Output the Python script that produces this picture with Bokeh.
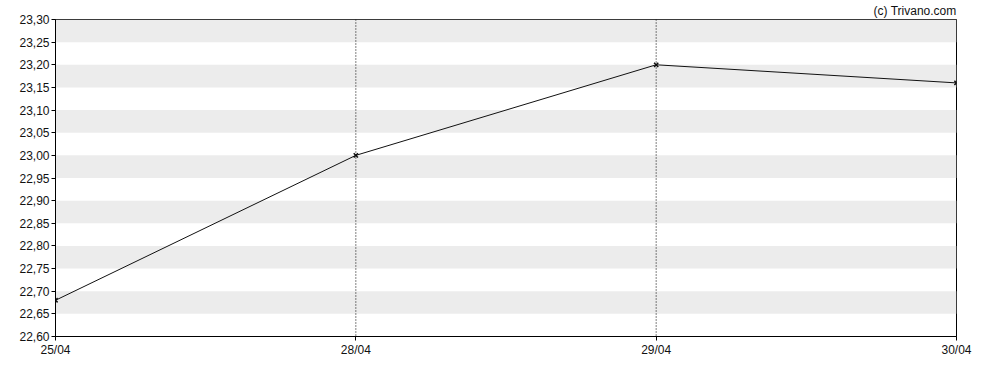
from bokeh.plotting import figure
from bokeh.models import Range1d, FixedTicker, CustomJSTickFormatter, Title, Span
from bokeh.embed import file_html
from bokeh.resources import INLINE

dates = ["25/04", "28/04", "29/04", "30/04"]
prices = [22.68, 23.00, 23.20, 23.16]
y_ticks = [22.60, 22.65, 22.70, 22.75, 22.80, 22.85, 22.90, 22.95, 23.00,
           23.05, 23.10, 23.15, 23.20, 23.25, 23.30]
idx = list(range(len(dates)))

FONT = "Liberation Sans"

p = figure(width=980, height=362, output_backend="svg", toolbar_location=None,
           x_range=Range1d(0, len(dates) - 1), y_range=Range1d(y_ticks[0], y_ticks[-1]),
           min_border_left=55, min_border_right=24, min_border_top=9, min_border_bottom=26)

p.add_layout(Title(text="(c) Trivano.com", align="right", text_font=FONT,
                   text_font_size="12px", text_font_style="normal", text_color="#111111",
                   offset=0, standoff=3), "above")

p.ygrid.ticker = FixedTicker(ticks=y_ticks)
p.ygrid.grid_line_color = None
p.ygrid.band_fill_color = "#ececec"
p.ygrid.band_fill_alpha = 1.0
p.xgrid.grid_line_color = None

for i in idx[1:-1]:
    p.add_layout(Span(location=i, dimension="height", line_color="black",
                      line_dash="1 2", line_width=1))

p.line(idx, prices, line_color="#111111", line_width=1)
p.scatter(idx, prices, marker="x", size=6, line_color="#111111", line_width=1.5)

p.xaxis.ticker = FixedTicker(ticks=idx)
p.xaxis.major_label_overrides = {i: d for i, d in zip(idx, dates)}
p.yaxis.ticker = FixedTicker(ticks=y_ticks)
p.yaxis.formatter = CustomJSTickFormatter(code="return tick.toFixed(2).replace('.', ',');")

for ax in (p.xaxis[0], p.yaxis[0]):
    ax.axis_line_color = "black"
    ax.major_tick_line_color = "black"
    ax.major_tick_out = 4
    ax.major_tick_in = 0
    ax.minor_tick_line_color = None
    ax.major_label_text_font = FONT
    ax.major_label_text_font_size = "12px"
    ax.major_label_text_color = "#111111"
    ax.major_label_standoff = 2

p.outline_line_color = "black"
p.outline_line_alpha = 1.0
p.background_fill_color = "white"
p.border_fill_color = "white"

open("out.html", "w").write(file_html(p, INLINE))
